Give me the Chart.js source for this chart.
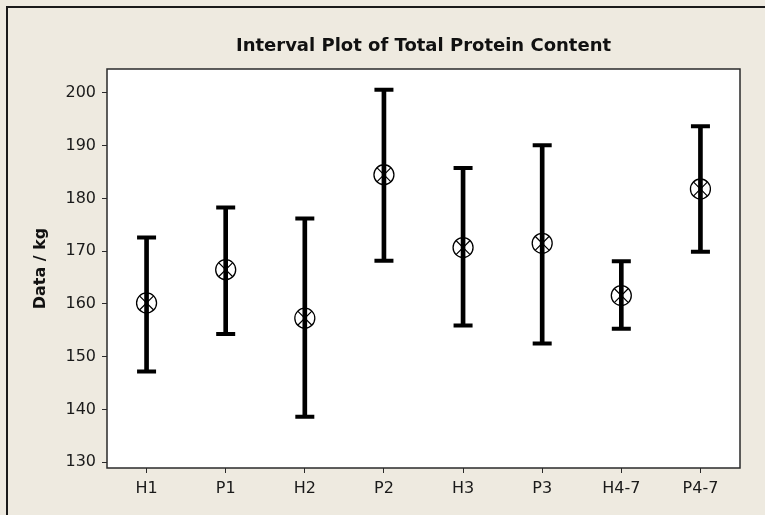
<!DOCTYPE html>
<html>
<head>
<meta charset="utf-8">
<script src="https://cdn.jsdelivr.net/npm/chart.js@4.4.1/dist/chart.umd.min.js"></script>
<style>
  html, body { margin: 0; padding: 0; background: #eeeae0; }
  #wrap { position: relative; width: 765px; height: 515px; overflow: hidden; }
  #frame { position: absolute; left: 6px; top: 6px; width: 800px; height: 600px;
           border-left: 2px solid #1a1a1a; border-top: 2px solid #1a1a1a; box-sizing: border-box; }
  canvas { position: absolute; left: 0; top: 0; }
</style>
</head>
<body>
<div id="wrap">
  <div id="frame"></div>
  <canvas id="c" width="765" height="515"></canvas>
</div>
<script>
// ---- data ----
const categories = ["H1", "P1", "H2", "P2", "H3", "P3", "H4-7", "P4-7"];
const means      = [160.2, 166.5, 157.3, 184.5, 170.7, 171.5, 161.6, 181.8];
const lowerCI    = [147.2, 154.3, 138.6, 168.2, 155.9, 152.5, 155.3, 169.9];
const upperCI    = [172.6, 178.3, 176.2, 200.6, 185.8, 190.1, 168.1, 193.7];
const yTicks     = [130, 140, 150, 160, 170, 180, 190, 200];
const yMin = 128.9, yMax = 204.55;

const intervals = categories.map((_, i) => [lowerCI[i], upperCI[i]]);

const plotFrame = {
  id: 'plotFrame',
  beforeDraw(chart) {
    const a = chart.chartArea, ctx = chart.ctx;
    ctx.save();
    ctx.fillStyle = '#ffffff';
    ctx.fillRect(a.left, a.top, a.right - a.left, a.bottom - a.top);
    ctx.restore();
  },
  afterDraw(chart) {
    const a = chart.chartArea, ctx = chart.ctx;
    ctx.save();
    ctx.strokeStyle = '#2a2a2a';
    ctx.lineWidth = 1.5;
    ctx.strokeRect(a.left, a.top, a.right - a.left, a.bottom - a.top);
    ctx.restore();
  }
};

new Chart(document.getElementById('c'), {
  type: 'bar',
  data: {
    labels: categories,
    datasets: [
      { type: 'bar', data: intervals, backgroundColor: '#000', borderWidth: 0,
        barThickness: 4, order: 4 },
      { type: 'line', data: upperCI, showLine: false, pointStyle: 'line', pointRadius: 9.5,
        borderColor: '#000', pointBorderWidth: 4, order: 3 },
      { type: 'line', data: lowerCI, showLine: false, pointStyle: 'line', pointRadius: 9.5,
        borderColor: '#000', pointBorderWidth: 4, order: 3 },
      { type: 'line', data: means, showLine: false, pointStyle: 'circle', pointRadius: 10,
        pointBackgroundColor: 'rgba(0,0,0,0)', pointBorderColor: '#000', pointBorderWidth: 1.3, order: 2 },
      { type: 'line', data: means, showLine: false, pointStyle: 'crossRot', pointRadius: 10,
        pointBorderColor: '#000', pointBorderWidth: 1.2, order: 1 }
    ]
  },
  options: {
    responsive: false,
    animation: false,
    events: [],
    layout: { padding: { left: 0, right: 25, top: 0, bottom: 0 } },
    plugins: {
      legend: { display: false },
      tooltip: { enabled: false },
      title: {
        display: true,
        text: 'Interval Plot of Total Protein Content',
        color: '#111',
        fullSize: false,
        font: { family: 'DejaVu Sans', size: 18, weight: 'bold' },
        padding: { top: 36, bottom: 11.4 }
      }
    },
    scales: {
      x: {
        offset: true,
        grid: { display: true, offset: false, drawOnChartArea: false, drawTicks: true, tickLength: 5,
                color: '#2a2a2a', tickColor: '#2a2a2a' },
        border: { display: false },
        ticks: { color: '#1a1a1a', padding: 6, maxRotation: 0,
                 font: { family: 'DejaVu Sans', size: 16 } },
        afterFit(s) { s.height = 47; }
      },
      y: {
        min: yMin, max: yMax,
        afterBuildTicks(s) { s.ticks = yTicks.map(v => ({ value: v })); },
        grid: { display: true, drawOnChartArea: false, drawTicks: true, tickLength: 5,
                color: '#2a2a2a', tickColor: '#2a2a2a' },
        border: { display: false },
        ticks: { color: '#1a1a1a', padding: 6,
                 font: { family: 'DejaVu Sans', size: 16 } },
        title: { display: true, text: 'Data / kg', color: '#111',
                 font: { family: 'DejaVu Sans', size: 16, weight: 'bold' },
                 padding: { top: 31, bottom: 0 } },
        afterFit(s) { s.width = 107; }
      }
    }
  },
  plugins: [plotFrame]
});
</script>
</body>
</html>
